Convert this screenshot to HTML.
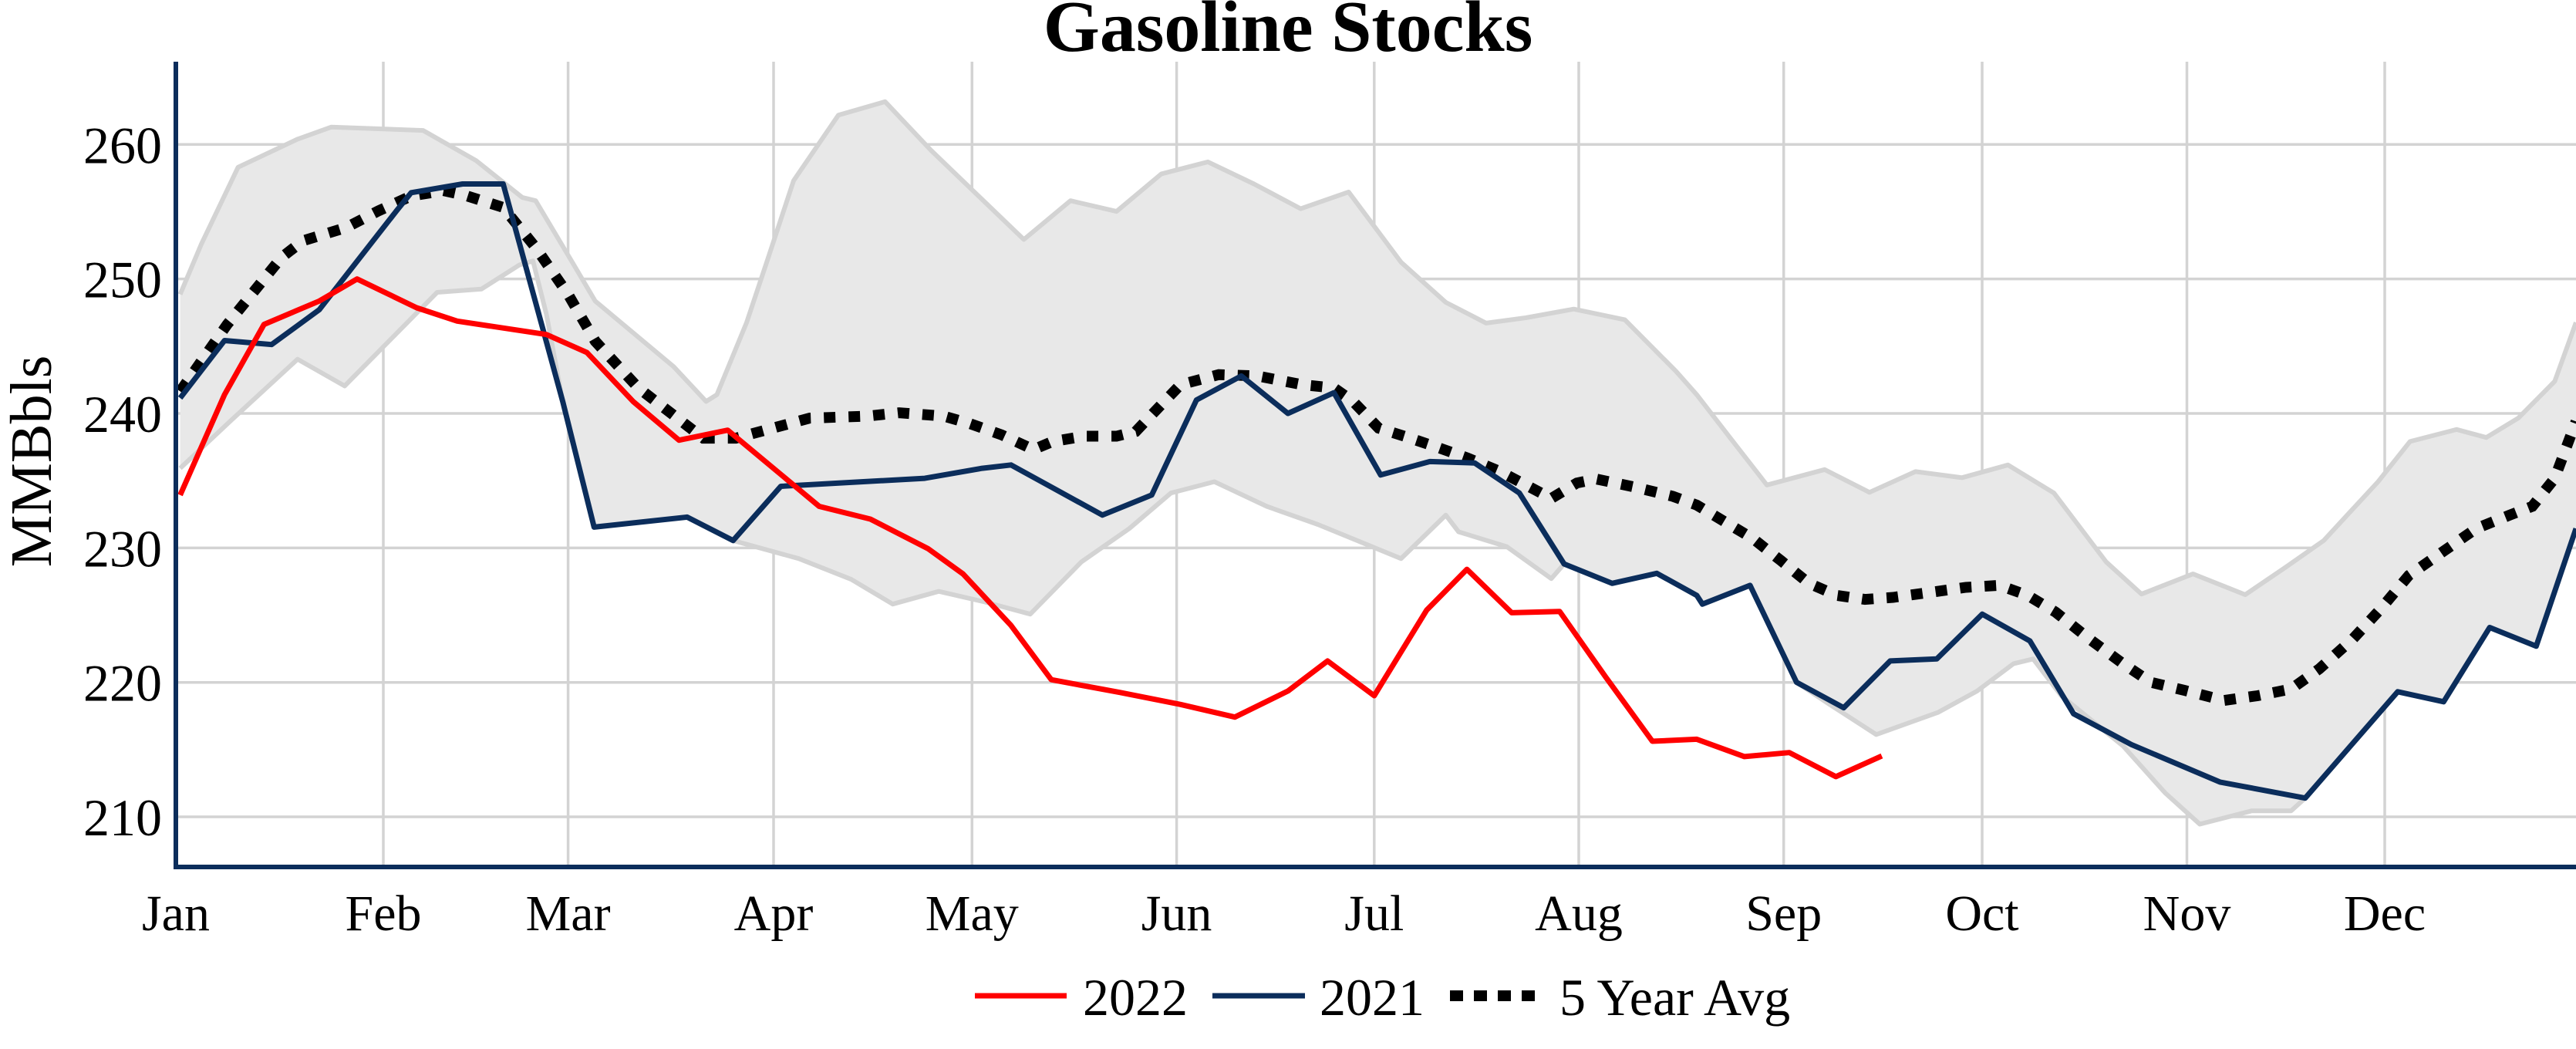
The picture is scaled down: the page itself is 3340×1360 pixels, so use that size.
<!DOCTYPE html>
<html><head><meta charset="utf-8">
<style>
html,body{margin:0;padding:0;background:#fff;}
svg{display:block;}
text{font-family:"Liberation Serif","Times New Roman",serif;fill:#000;}
</style></head>
<body>
<svg id="c" width="3340" height="1360" viewBox="0 0 3340 1360" xmlns="http://www.w3.org/2000/svg">
<defs><clipPath id="pc"><rect x="228" y="80" width="3112" height="1044"/></clipPath></defs>
<g id="grid" stroke="#d3d3d3" stroke-width="3.5"></g>
<g clip-path="url(#pc)">
<path id="band" fill="#e8e8e8" stroke="none"/>
<path id="up" fill="none" stroke="#d3d3d3" stroke-width="6" stroke-linejoin="round"/>
<path id="lo" fill="none" stroke="#d3d3d3" stroke-width="6" stroke-linejoin="round"/>
<path id="avg" fill="none" stroke="#000" stroke-width="14" stroke-dasharray="15 17"/>
<path id="n21" fill="none" stroke="#0b2d5b" stroke-width="7" stroke-linejoin="round"/>
<path id="r22" fill="none" stroke="#ff0000" stroke-width="7" stroke-linejoin="round"/>
</g>
<line x1="228" y1="80" x2="228" y2="1127" stroke="#0b2d5b" stroke-width="6"/>
<line x1="225" y1="1124" x2="3340" y2="1124" stroke="#0b2d5b" stroke-width="6"/>
<g id="ylab" font-size="68" text-anchor="end"></g>
<g id="xlab" font-size="66" text-anchor="middle"></g>
<text x="1670" y="66" font-size="94" font-weight="bold" text-anchor="middle">Gasoline Stocks</text>
<text transform="translate(66,598) rotate(-90)" font-size="76" text-anchor="middle">MMBbls</text>
<line x1="1264" y1="1291" x2="1383" y2="1291" stroke="#ff0000" stroke-width="7"/>
<text x="1404" y="1316" font-size="68">2022</text>
<line x1="1572" y1="1291" x2="1692" y2="1291" stroke="#0b2d5b" stroke-width="7"/>
<text x="1711" y="1316" font-size="68">2021</text>
<line x1="1880" y1="1291" x2="1991" y2="1291" stroke="#000" stroke-width="14" stroke-dasharray="17 14"/>
<text x="2022" y="1316" font-size="68">5 Year Avg</text>
</svg>
<script>
var NS="http://www.w3.org/2000/svg";
function yv(v){return 187.3+(260-v)*17.435;}
var g=document.getElementById('grid');
for(var v=210;v<=260;v+=10){var l=document.createElementNS(NS,'line');l.setAttribute('x1',228);l.setAttribute('x2',3340);l.setAttribute('y1',yv(v));l.setAttribute('y2',yv(v));g.appendChild(l);
var t=document.createElementNS(NS,'text');t.setAttribute('x',210);t.setAttribute('y',yv(v)+24);t.textContent=v;document.getElementById('ylab').appendChild(t);}
var months=[["Jan",228],["Feb",497],["Mar",736.6],["Apr",1003],["May",1260.3],["Jun",1525.6],["Jul",1781.8],["Aug",2047],["Sep",2312.7],["Oct",2570],["Nov",2835.5],["Dec",3092]];
months.forEach(function(m){if(m[1]>230){var l=document.createElementNS(NS,'line');l.setAttribute('x1',m[1]);l.setAttribute('x2',m[1]);l.setAttribute('y1',80);l.setAttribute('y2',1121);g.appendChild(l);}
var t=document.createElementNS(NS,'text');t.setAttribute('x',m[1]);t.setAttribute('y',1206);t.textContent=m[0];document.getElementById('xlab').appendChild(t);});
var Z={1:[0,1.4255,0,1003],3:[1000,1.2062,1003,2200],2:[2200,1.3754,2200,4000]};
function conv(segs){var out=[];segs.forEach(function(s){var z=Z[s[0]],p=s[1];for(var i=0;i<p.length;i+=2){var x=z[0]+p[i]/z[1],y=p[i+1]/1.153;if(x>=z[2]-0.01&&x<z[3])out.push([x,y]);}});return out;}
function d(pts){return "M"+pts.map(function(p){return p[0].toFixed(1)+","+p[1].toFixed(1);}).join("L");}
var up=conv([[1,[333,440,372,365,440,250,550,208,612,190,782,195,880,240,965,295,990,300,1060,395,1100,450,1245,548,1305,600,1325,590,1380,482,1420,385,1430,365]],
[3,[3,370,35,270,105,172,178,152,250,225,395,358,468,300,540,316,610,260,683,242,755,275,828,312,903,287,985,392,1055,452,1118,483,1180,475,1255,462,1335,478,1415,555,1490,648,1550,725,1568,730]],
[2,[0,590,60,655,125,725,228,702,308,736,390,705,473,714,555,695,637,737,730,840,793,888,885,858,978,889,1050,848,1118,808,1215,720,1272,660,1355,642,1408,654,1465,625,1530,570,1568,482]]]);
var lo=conv([[1,[333,700,425,630,550,537,637,577,808,437,890,432,960,396,985,390,1010,470,1040,600,1098,788,1270,773,1355,808,1430,745]],
[3,[3,750,43,835,125,866,190,903,262,884,335,900,405,918,485,840,560,790,625,737,693,720,775,757,855,784,985,835,1055,770,1075,795,1150,817,1220,865,1240,843,1315,872,1385,857,1460,902]],
[2,[0,890,10,903,95,875,178,1020,235,1052,320,1098,430,1065,500,1033,565,992,600,985,650,1040,760,1115,835,1185,897,1232,990,1212,1060,1212,1085,1193,1250,1034,1332,1049,1414,938,1497,966,1568,790]]]);
var avg=conv([[1,[333,585,420,485,520,385,560,360,640,340,700,315,760,293,820,285,860,292,930,310,990,370,1050,440,1100,510,1180,580,1260,630,1300,655,1360,655,1430,625]],
[3,[3,628,60,625,150,622,200,617,270,622,310,633,360,650,410,672,440,660,490,652,540,652,570,645,600,615,640,575,700,560,760,562,830,575,880,580,910,600,950,640,990,652,1040,668,1090,685,1140,705,1190,730,1220,745,1260,722,1290,716,1350,728,1410,742,1460,763]],
[2,[0,755,50,780,100,805,150,838,200,872,250,890,300,896,350,893,420,885,480,878,540,875,590,890,640,915,700,955,760,992,810,1020,870,1032,940,1047,1000,1040,1060,1030,1110,1000,1170,955,1220,910,1270,860,1330,825,1390,790,1450,770,1490,757,1530,715,1568,630]]]);
var n21=conv([[1,[333,595,415,509,502,515,590,463,733,315,760,288,855,275,930,275,1040,600,1098,788,1270,773,1355,808,1430,730]],
[3,[3,745,15,727,240,715,330,700,375,695,518,770,595,740,665,598,735,562,808,618,880,587,953,710,1030,690,1100,692,1170,737,1240,843,1315,872,1385,857,1460,902]],
[2,[0,890,10,903,95,875,178,1020,262,1058,345,988,428,985,509,918,594,958,672,1067,775,1113,933,1169,1085,1193,1250,1034,1332,1049,1414,938,1497,966,1568,790]]]);
var r22=conv([[1,[333,740,415,590,488,485,590,450,660,417,770,460,845,480,1010,500,1085,527,1170,600,1255,658,1345,643,1430,683]],
[3,[3,680,75,757,155,776,245,820,300,858,375,935,438,1016,545,1035,640,1053,725,1072,808,1033,870,988,943,1040,1025,912,1088,851,1158,916,1233,914,1305,1012,1378,1108,1448,1109]],
[2,[0,1105,85,1131,165,1125,248,1161,330,1130]]]);
document.getElementById('up').setAttribute('d',d(up));
document.getElementById('lo').setAttribute('d',d(lo));
document.getElementById('band').setAttribute('d',d(up.concat(lo.slice().reverse()))+"Z");
document.getElementById('avg').setAttribute('d',d(avg));
document.getElementById('n21').setAttribute('d',d(n21));
document.getElementById('r22').setAttribute('d',d(r22));
</script>
</body></html>
